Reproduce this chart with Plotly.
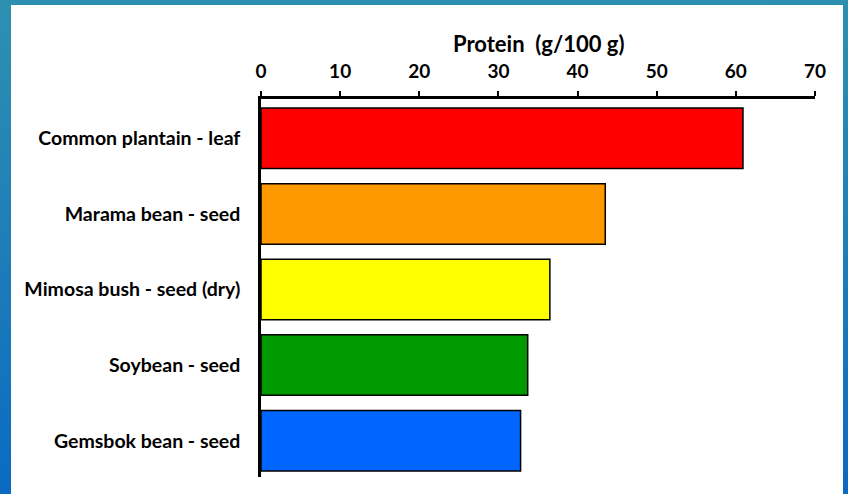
import plotly.graph_objects as go

categories = ["Common plantain - leaf", "Marama bean - seed", "Mimosa bush - seed (dry)",
              "Soybean - seed", "Gemsbok bean - seed"]
protein = [60.9, 43.5, 36.5, 33.7, 32.8]
colors = ["#FF0000", "#FF9900", "#FFFF00", "#009900", "#0066FF"]
tick_vals = [0, 10, 20, 30, 40, 50, 60, 70]

font_family = "Lato, 'Open Sans', sans-serif"

W, H = 848, 494
L, R, T, B = 261, 33, 99, 17
pw, ph = W - L - R, H - T - B


def px_to_paper_x(px):
    return (px - L) / pw


def px_to_paper_y(py):
    return (H - B - py) / ph


fig = go.Figure(go.Bar(
    x=protein, y=categories, orientation="h",
    marker=dict(color=colors, line=dict(color="black", width=1.5)),
    width=0.8,
))

fig.update_layout(
    width=W, height=H,
    margin=dict(l=L, r=R, t=T, b=B),
    paper_bgcolor="rgba(0,0,0,0)",
    plot_bgcolor="white",
    showlegend=False,
    font=dict(family=font_family, color="black"),
    shapes=[
        dict(type="rect", xref="paper", yref="paper", layer="below",
             x0=px_to_paper_x(11), x1=px_to_paper_x(843),
             y0=px_to_paper_y(500), y1=px_to_paper_y(5),
             fillcolor="white", line=dict(width=0)),
    ],
    annotations=[
        dict(text="<b>Protein  (g/100 g)</b>", xref="paper", yref="paper",
             x=px_to_paper_x(538.5), y=px_to_paper_y(44), xanchor="center", yanchor="middle",
             showarrow=False, font=dict(size=22, family=font_family, color="black")),
    ],
)

fig.update_xaxes(
    side="top", range=[0, 70], tickvals=tick_vals,
    ticktext=[f"<b>{v}</b>" for v in tick_vals],
    tickfont=dict(size=19, family=font_family, color="black"),
    showgrid=False, zeroline=False,
    showline=True, linecolor="black", linewidth=2.5,
    ticks="outside", ticklen=5, tickwidth=2, tickcolor="black",
    ticklabelstandoff=6,
    fixedrange=True,
)
fig.update_yaxes(
    categoryorder="array", categoryarray=categories,
    range=[4.48, -0.52],
    tickvals=categories,
    ticktext=[f"<b>{c}</b>" for c in categories],
    tickfont=dict(size=19.5, family=font_family, color="black"),
    showgrid=False, zeroline=False,
    showline=True, linecolor="black", linewidth=2.5,
    ticks="", ticklabelstandoff=14,
    fixedrange=True,
)

post = ("document.body.style.margin='0';"
        "document.body.style.background='linear-gradient(to bottom, #2E90B0 0%, #1E7EB8 50%, #0A6AC2 100%)';"
        "document.body.style.minHeight='494px';")

fig.write_html("out.html", post_script=post, config={"displayModeBar": False})
